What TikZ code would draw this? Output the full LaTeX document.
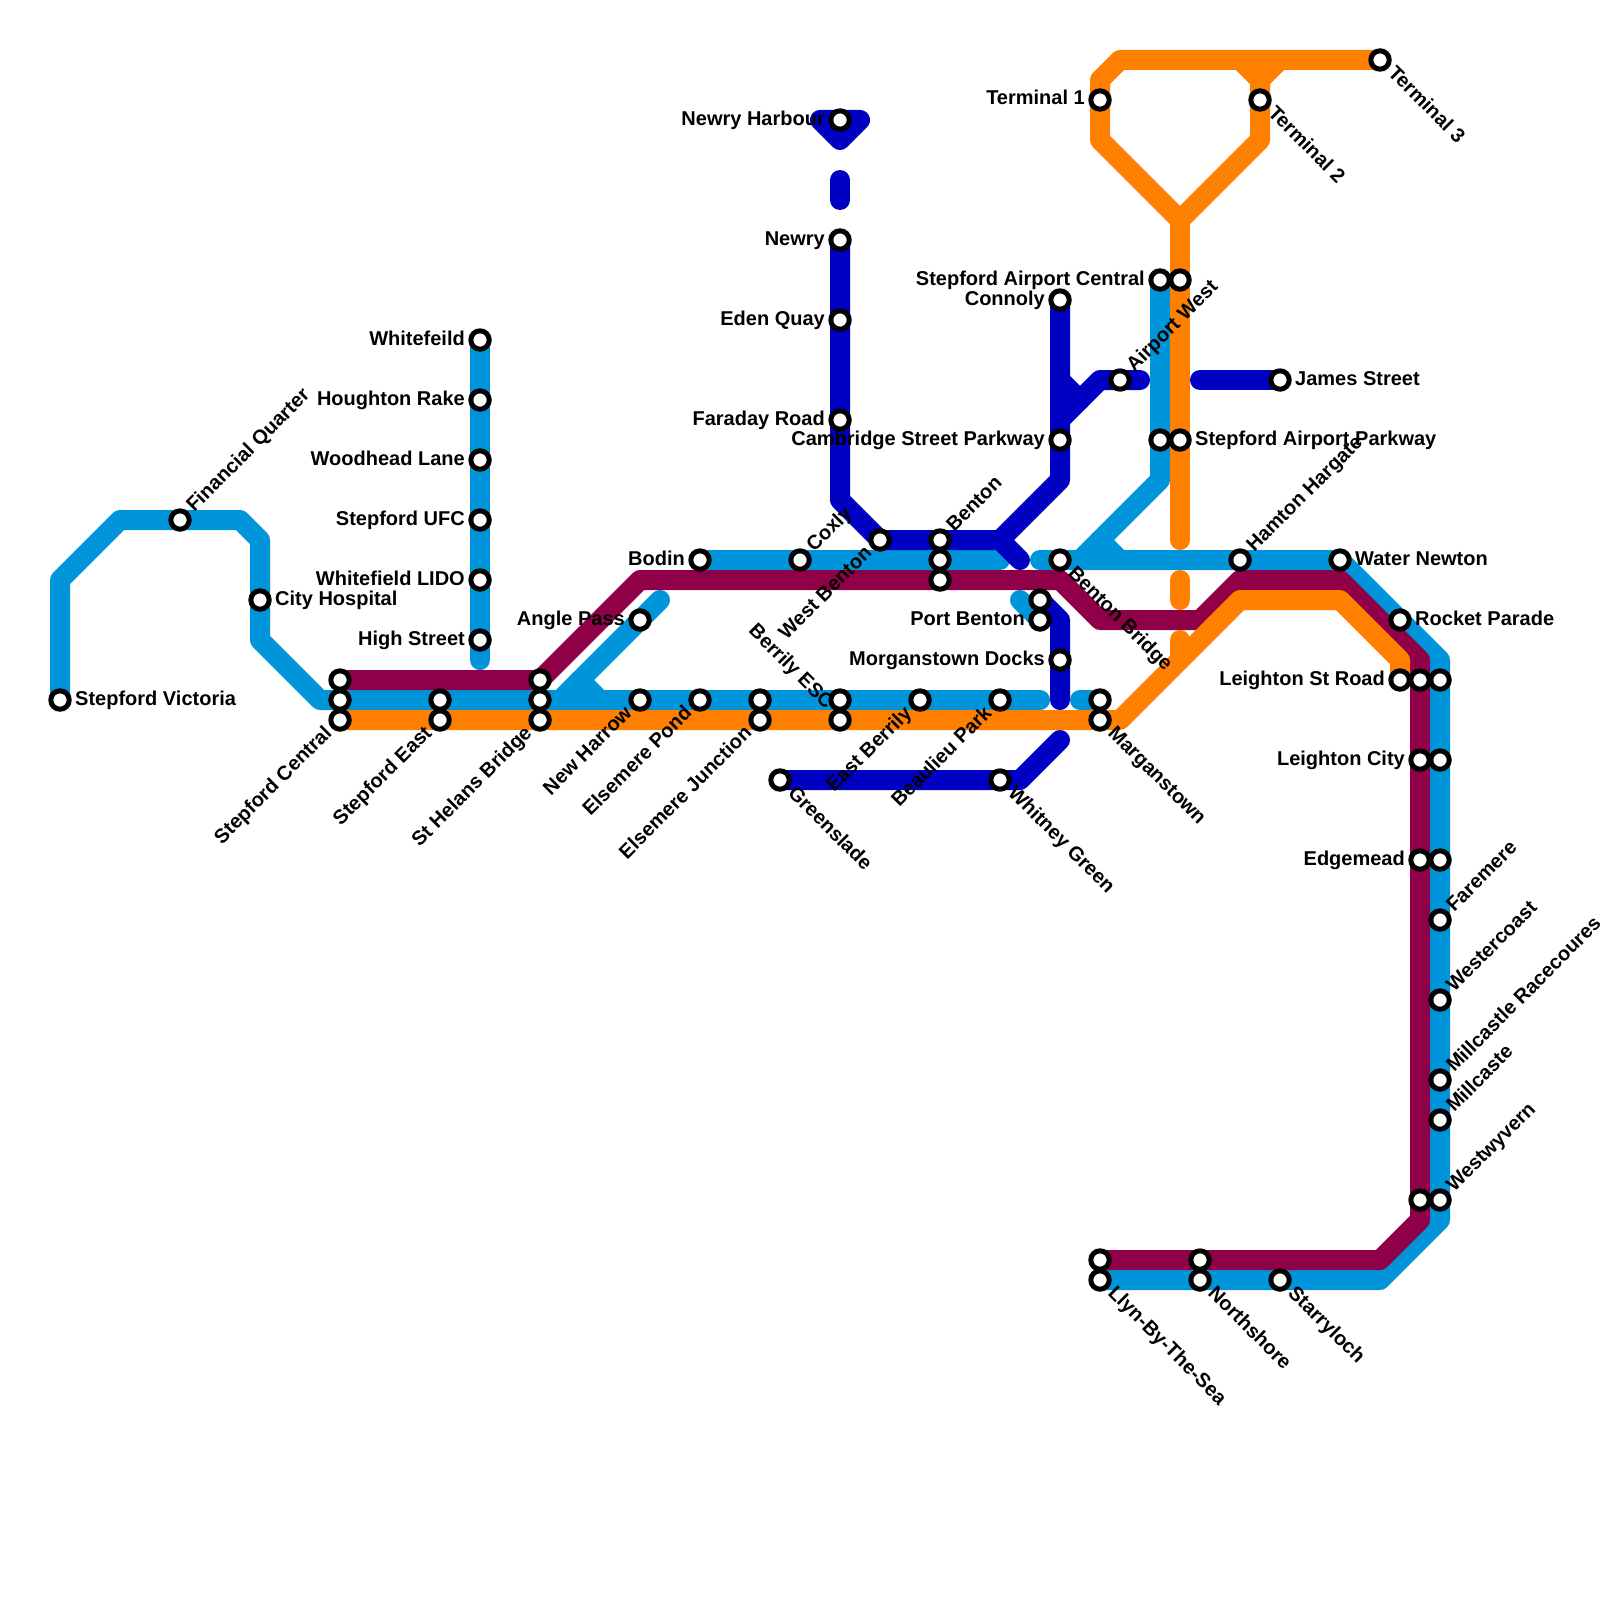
\documentclass[tikz,border=0pt]{standalone}
\usepackage{fontspec}
\setmainfont{Liberation Sans}
\definecolor{lineblue}{HTML}{0094DA}
\definecolor{linenavy}{HTML}{0000C2}
\definecolor{lineplum}{HTML}{900048}
\definecolor{lineorange}{HTML}{FF8000}
\usetikzlibrary{backgrounds}
\tikzset{
    station/.style={
        circle,
        draw=black,
        fill=white,
        line width=5pt,
        inner sep=0pt,
        minimum size=18.4pt
    },
    route/.style={
        line width=20pt,
        line cap=round,
        line join=round
    },
    routeblue/.style={route,draw=lineblue},
    routenavy/.style={route,draw=linenavy},
    routeplum/.style={route,draw=lineplum},
    routeorange/.style={route,draw=lineorange},
    stationtext/.style={
        font=\bfseries\fontsize{20}{22}\selectfont,
        inner sep=0pt
    },
    textright/.style={stationtext,anchor=base west,xshift=15pt,yshift=-5pt},
    textleft/.style={stationtext,anchor=base east,xshift=-15pt,yshift=-5pt},
    textupright/.style={rotate=45,textright},
    textdownright/.style={rotate=-45,textright},
    textdownleft/.style={rotate=45,textleft},
    textupleft/.style={rotate=-45,textleft}
}
\begin{document}
\begin{tikzpicture}[x=20pt,y=-20pt]
        \useasboundingbox (0,0) rectangle (80,80);

        % far left
        \node[station] (victoria) at (3,35) {};
        \node[station] (financial) at (9,26) {};
        \node[station] (hospital) at (13,30) {};
        \node[station] (whitefeild) at (24,17) {};
        \node[station] (houghton) at (24,20) {};
        \node[station] (woodhead) at (24,23) {};
        \node[station] (ufc) at (24,26) {};
        \node[station] (lido) at (24,29) {};
        \node[station] (highstreet) at (24,32) {};

        % long row
        \node[station] (centralplum) at (17,34) {};
        \node[station] (central) at (17,35) {};
        \node[station] (centralorange) at (17,36) {};
        \node[station] (east) at (22,35) {};
        \node[station] (eastorange) at (22,36) {};
        \node[station] (helensplum) at (27,34) {};
        \node[station] (helens) at (27,35) {};
        \node[station] (helensorange) at (27,36) {};
        \node[station] (anglepass) at (32,31) {};
        \node[station] (harrow) at (32,35) {};
        \node[station] (pond) at (35,35) {};
        \node[station] (junction) at (38,35) {};
        \node[station] (junctionorange) at (38,36) {};
        \node[station] (esc) at (42,35) {};
        \node[station] (escorange) at (42,36) {};
        \node[station] (eastberrily) at (46,35) {};
        \node[station] (beaulieu) at (50,35) {};
        \node[station] (marganblue) at (55,35) {};
        \node[station] (marganstown) at (55,36) {};
        \node[station] (greenslade) at (39,39) {};
        \node[station] (whitney) at (50,39) {};

        % middle
        \node[station] (bodin) at (35,28) {};
        \node[station] (coxly) at (40,28) {};
        \node[station] (westbenton) at (44,27) {};
        \node[station] (benton) at (47,27) {};
        \node[station] (bentonblue) at (47,28) {};
        \node[station] (bentonplum) at (47,29) {};
        \node[station] (harbour) at (42,6) {};
        \node[station] (newry) at (42,12) {};
        \node[station] (eden) at (42,16) {};
        \node[station] (faraday) at (42,21) {};
        \node[station] (connolly) at (53,15) {};
        \node[station] (cambridge) at (53,22) {};
        \node[station] (airportwest) at (56,19) {};
        \node[station] (bentonbridge) at (53,28) {};
        \node[station] (portnavy) at (52,30) {};
        \node[station] (portbenton) at (52,31) {};
        \node[station] (docks) at (53,33) {};

        % airport
        \node[station] (terminalone) at (55,5) {};
        \node[station] (terminaltwo) at (63,5) {};
        \node[station] (terminalthree) at (69,3) {};
        \node[station] (airportcentral) at (58,14) {};
        \node[station] (airportorange) at (59,14) {};
        \node[station] (parkwayblue) at (58,22) {};
        \node[station] (parkway) at (59,22) {};
        \node[station] (james) at (64,19) {};

        % right side
        \node[station] (hamton) at (62,28) {};
        \node[station] (waternewton) at (67,28) {};
        \node[station] (rocket) at (70,31) {};
        \node[station] (leightonroad) at (70,34) {};
        \node[station] (leightonplum) at (71,34) {};
        \node[station] (leightonblue) at (72,34) {};
        \node[station] (leightoncity) at (71,38) {};
        \node[station] (cityblue) at (72,38) {};
        \node[station] (edgemead) at (71,43) {};
        \node[station] (edgeblue) at (72,43) {};
        \node[station] (faremere) at (72,46) {};
        \node[station] (westercoast) at (72,50) {};
        \node[station] (racecourse) at (72,54) {};
        \node[station] (millcaste) at (72,56) {};
        \node[station] (wyvernplum) at (71,60) {};
        \node[station] (westwyvern) at (72,60) {};

        % bottom
        \node[station] (llynplum) at (55,63) {};
        \node[station] (llyn) at (55,64) {};
        \node[station] (northplum) at (60,63) {};
        \node[station] (northshore) at (60,64) {};
        \node[station] (starryloch) at (64,64) {};

        % station names
        \node[textright] (victorialabel) at (victoria) {Stepford Victoria};
        \node[textupright] (financiallabel) at (financial) {Financial Quarter};
        \node[textright] (hospitallabel) at (hospital) {City Hospital};
        \node[textleft] (whitefeildlabel) at (whitefeild) {Whitefeild};
        \node[textleft] (houghtonlabel) at (houghton) {Houghton Rake};
        \node[textleft] (woodheadlabel) at (woodhead) {Woodhead Lane};
        \node[textleft] (ufclabel) at (ufc) {Stepford UFC};
        \node[textleft] (lidolabel) at (lido) {Whitefield LIDO};
        \node[textleft] (highstreetlabel) at (highstreet) {High Street};
        \node[textdownleft] (centrallabel) at (centralorange) {Stepford Central};
        \node[textdownleft] (eastlabel) at (eastorange) {Stepford East};
        \node[textdownleft] (helenslabel) at (helensorange) {St Helans Bridge};
        \node[textleft] (anglepasslabel) at (anglepass) {Angle Pass};
        \node[textdownleft] (harrowlabel) at (harrow) {New Harrow};
        \node[textdownleft] (pondlabel) at (pond) {Elsemere Pond};
        \node[textdownleft] (junctionlabel) at (junctionorange) {Elsemere Junction};
        \node[textupleft,xshift=12pt,yshift=-12pt] (esclabel) at (esc) {Berrily ESC};
        \node[textdownleft] (eastberrilylabel) at (eastberrily) {East Berrily};
        \node[textdownleft] (beaulieulabel) at (beaulieu) {Beaulieu Park};
        \node[textdownright] (marganstownlabel) at (marganstown) {Marganstown};
        \node[textdownright] (greensladelabel) at (greenslade) {Greenslade};
        \node[textdownright] (whitneylabel) at (whitney) {Whitney Green};
        \node[textleft] (bodinlabel) at (bodin) {Bodin};
        \node[textupright] (coxlylabel) at (coxly) {Coxly};
        \node[textdownleft] (westbentonlabel) at (westbenton) {West Benton};
        \node[textupright] (bentonlabel) at (benton) {Benton};
        \node[textleft] (harbourlabel) at (harbour) {Newry Harbour};
        \node[textleft] (newrylabel) at (newry) {Newry};
        \node[textleft] (edenlabel) at (eden) {Eden Quay};
        \node[textleft] (faradaylabel) at (faraday) {Faraday Road};
        \node[textleft] (connollylabel) at (connolly) {Connoly};
        \node[textleft] (cambridgelabel) at (cambridge) {Cambridge Street Parkway};
        \node[textupright] (airportwestlabel) at (airportwest) {Airport West};
        \node[textdownright] (bentonbridgelabel) at (bentonbridge) {Benton Bridge};
        \node[textleft] (portbentonlabel) at (portbenton) {Port Benton};
        \node[textleft] (dockslabel) at (docks) {Morganstown Docks};
        \node[textleft] (terminalonelabel) at (terminalone) {Terminal 1};
        \node[textdownright] (terminaltwolabel) at (terminaltwo) {Terminal 2};
        \node[textdownright] (terminalthreelabel) at (terminalthree) {Terminal 3};
        \node[textleft] (airportcentrallabel) at (airportcentral) {Stepford Airport Central};
        \node[textright] (parkwaylabel) at (parkway) {Stepford Airport Parkway};
        \node[textright] (jameslabel) at (james) {James Street};
        \node[textupright] (hamtonlabel) at (hamton) {Hamton Hargate};
        \node[textright] (waternewtonlabel) at (waternewton) {Water Newton};
        \node[textright] (rocketlabel) at (rocket) {Rocket Parade};
        \node[textleft] (leightonroadlabel) at (leightonroad) {Leighton St Road};
        \node[textleft] (leightoncitylabel) at (leightoncity) {Leighton City};
        \node[textleft] (edgemeadlabel) at (edgemead) {Edgemead};
        \node[textupright] (faremerelabel) at (faremere) {Faremere};
        \node[textupright] (westercoastlabel) at (westercoast) {Westercoast};
        \node[textupright] (racecourselabel) at (racecourse) {Millcastle Racecoures};
        \node[textupright] (millcastelabel) at (millcaste) {Millcaste};
        \node[textupright] (westwyvernlabel) at (westwyvern) {Westwyvern};
        \node[textdownright] (llynlabel) at (llyn) {Llyn-By-The-Sea};
        \node[textdownright] (northshorelabel) at (northshore) {Northshore};
        \node[textdownright] (starrylochlabel) at (starryloch) {Starryloch};

        % free ends of the stubs
        \coordinate (whitefeildend) at (24,33);
        \coordinate (rowend) at (52,35);
        \coordinate (angleend) at (33,30);
        \coordinate (anglestart) at (28,35);
        \coordinate (upperrowend) at (50,28);
        \coordinate (upperrowstart) at (52,28);
        \coordinate (airportjoin) at (54,28);
        \coordinate (marganstub) at (54,35);
        \coordinate (portstub) at (51,30);
        \coordinate (whitneyend) at (53,37);
        \coordinate (dockend) at (53,35);
        \coordinate (westend) at (57,19);
        \coordinate (jamesstart) at (60,19);
        \coordinate (forkend) at (51,28);

        \begin{scope}[on background layer]
            \draw[routeblue] (victoria.center) -- (3,29) -- (6,26) -- (12,26) -- (13,27) -- (13,32) -- (16,35) -- (rowend);
            \draw[routeblue] (whitefeild.center) -- (whitefeildend);
            \draw[routeblue] (anglestart) -- (angleend);
            \draw[routeblue] (29,34) -- (30,35);
            \draw[routeblue] (bodin.center) -- (upperrowend);
            \draw[routeblue] (upperrowstart) -- (waternewton.center) -- (72,33) -- (72,61) -- (69,64) -- (llyn.center);
            \draw[routeblue] (airportcentral.center) -- (58,24) -- (airportjoin);
            \draw[routeblue] (55,27) -- (56,28);
            \draw[routeblue] (portstub) -- (portbenton.center);
            \draw[routeblue] (marganstub) -- (marganblue.center);

            \draw[routenavy] (42,7) -- (41,6) -- (43,6) -- (42,7);
            \draw[routenavy] (42,9) -- (42,10);
            \draw[routenavy] (newry.center) -- (42,25) -- (44,27) -- (50,27) -- (53,24) -- (connolly.center);
            \draw[routenavy] (53,19) -- (54,20);
            \draw[routenavy] (53,21) -- (55,19) -- (westend);
            \draw[routenavy] (jamesstart) -- (james.center);
            \draw[routenavy] (50,27) -- (forkend);
            \draw[routenavy] (portnavy.center) -- (53,31) -- (dockend);
            \draw[routenavy] (greenslade.center) -- (51,39) -- (whitneyend);

            \draw[routeplum] (centralplum.center) -- (helensplum.center) -- (32,29) -- (53,29) -- (55,31) -- (60,31) -- (62,29) -- (67,29) -- (71,33) -- (71,61) -- (69,63) -- (llynplum.center);

            \draw[routeorange] (centralorange.center) -- (56,36) -- (62,30) -- (67,30) -- (70,33) -- (leightonroad.center);
            \draw[routeorange] (terminalthree.center) -- (56,3) -- (55,4) -- (55,7) -- (59,11) -- (63,7) -- (63,4) -- (64,3);
            \draw[routeorange] (62,3) -- (63,4);
            \draw[routeorange] (59,11) -- (59,27);
            \draw[routeorange] (59,29) -- (59,30);
            \draw[routeorange] (59,32) -- (59,33);
        \end{scope}
    \end{tikzpicture}
\end{document}
